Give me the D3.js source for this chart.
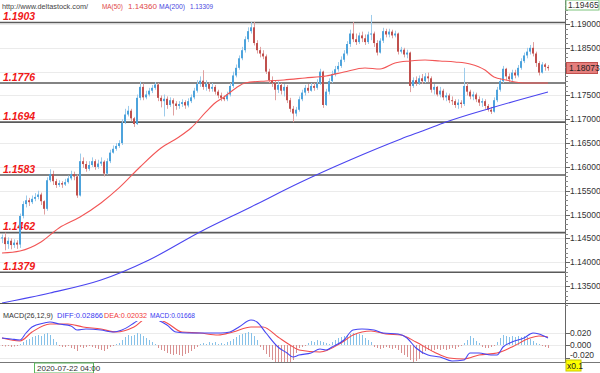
<!DOCTYPE html>
<html>
<head>
<meta charset="utf-8">
<script src="https://cdn.jsdelivr.net/npm/d3@7"></script>
<style>
  html, body { margin: 0; padding: 0; background: #fff; }
  svg { display: block; font-family: "Liberation Sans", Arial, sans-serif; }
</style>
</head>
<body>
<div id="chart"></div>
<script>
// ---- data ----
const firstOpen = 1.1450;
const closes = [
  1.1452,1.1438,1.1445,1.1436,1.1441,1.1437,1.1497,1.1522,1.1530,1.1526,
  1.1533,1.1537,1.1542,1.1528,1.1512,1.1572,1.1585,1.1570,1.1562,1.1566,
  1.1563,1.1568,1.1576,1.1585,1.1580,1.1540,1.1612,1.1606,1.1596,1.1604,
  1.1612,1.1600,1.1607,1.1611,1.1586,1.1612,1.1630,1.1638,1.1644,1.1650,
  1.1693,1.1710,1.1718,1.1702,1.1690,1.1745,1.1768,1.1746,1.1752,1.1760,
  1.1766,1.1773,1.1745,1.1738,1.1743,1.1730,1.1740,1.1733,1.1728,1.1732,
  1.1736,1.1729,1.1738,1.1746,1.1760,1.1774,1.1781,1.1768,1.1774,1.1764,
  1.1768,1.1758,1.1750,1.1745,1.1742,1.1752,1.1770,1.1792,1.1808,1.1828,
  1.1845,1.1868,1.1885,1.1893,1.1860,1.1845,1.1838,1.1832,1.1800,1.1782,
  1.1776,1.1762,1.1772,1.1760,1.1768,1.1740,1.1722,1.1712,1.1720,1.1742,
  1.1756,1.1766,1.1760,1.1770,1.1766,1.1775,1.1800,1.1730,1.1758,1.1780,
  1.1795,1.1805,1.1812,1.1825,1.1838,1.1858,1.1880,1.1868,1.1862,1.1876,
  1.1870,1.1862,1.1878,1.1880,1.1860,1.1840,1.1865,1.1885,1.1878,1.1884,
  1.1876,1.1880,1.1842,1.1846,1.1836,1.1840,1.1770,1.1782,1.1775,1.1786,
  1.1780,1.1790,1.1786,1.1762,1.1768,1.1752,1.1760,1.1746,1.1750,1.1740,
  1.1738,1.1730,1.1735,1.1732,1.1770,1.1758,1.1748,1.1752,1.1742,1.1735,
  1.1738,1.1728,1.1720,1.1716,1.1740,1.1762,1.1780,1.1806,1.1790,1.1784,
  1.1798,1.1792,1.1808,1.1822,1.1834,1.1842,1.1850,1.1838,1.1818,1.1798,
  1.1815,1.1810,1.18073
];
const highs = [
  1.1458,1.1462,1.1452,1.1450,1.1448,1.1446,1.1502,1.1528,1.1540,1.1535,
  1.1540,1.1545,1.1550,1.1546,1.1530,1.1578,1.1595,1.1592,1.1575,1.1572,
  1.1570,1.1575,1.1582,1.1592,1.1590,1.1584,1.1628,1.1620,1.1612,1.1612,
  1.1620,1.1616,1.1615,1.1620,1.1614,1.1618,1.1636,1.1645,1.1650,1.1656,
  1.1700,1.1722,1.1728,1.1722,1.1705,1.1752,1.1779,1.1775,1.1760,1.1766,
  1.1772,1.1778,1.1776,1.1750,1.1752,1.1748,1.1746,1.1744,1.1738,1.1738,
  1.1742,1.1740,1.1744,1.1752,1.1766,1.1782,1.1790,1.1803,1.1782,1.1778,
  1.1776,1.1772,1.1762,1.1756,1.1750,1.1758,1.1776,1.1800,1.1815,1.1834,
  1.1852,1.1874,1.1893,1.1904,1.1904,1.1866,1.1852,1.1845,1.1836,1.1806,
  1.1790,1.1782,1.1780,1.1776,1.1774,1.1772,1.1745,1.1728,1.1726,1.1748,
  1.1762,1.1772,1.1774,1.1776,1.1776,1.1784,1.1806,1.1802,1.1764,1.1786,
  1.1802,1.1812,1.1820,1.1832,1.1845,1.1864,1.1888,1.1904,1.1880,1.1882,
  1.1884,1.1878,1.1884,1.1919,1.1884,1.1866,1.1870,1.1892,1.1890,1.1890,
  1.1888,1.1886,1.1882,1.1852,1.1850,1.1846,1.1842,1.1788,1.1790,1.1792,
  1.1795,1.1797,1.1798,1.1790,1.1774,1.1770,1.1768,1.1764,1.1756,1.1754,
  1.1748,1.1742,1.1742,1.1740,1.1808,1.1776,1.1762,1.1758,1.1756,1.1748,
  1.1744,1.1742,1.1732,1.1726,1.1746,1.1768,1.1786,1.1812,1.1808,1.1796,
  1.1804,1.1804,1.1814,1.1828,1.1840,1.1850,1.1856,1.1862,1.1842,1.1822,
  1.1820,1.1818,1.1814
];
const lows = [
  1.1440,1.1425,1.1428,1.1427,1.1430,1.1428,1.1430,1.1492,1.1515,1.1518,
  1.1522,1.1528,1.1532,1.1520,1.1500,1.1508,1.1568,1.1562,1.1556,1.1558,
  1.1556,1.1560,1.1565,1.1572,1.1572,1.1535,1.1538,1.1598,1.1590,1.1592,
  1.1600,1.1594,1.1596,1.1602,1.1580,1.1584,1.1608,1.1628,1.1634,1.1640,
  1.1646,1.1690,1.1706,1.1696,1.1684,1.1688,1.1740,1.1740,1.1742,1.1748,
  1.1755,1.1762,1.1738,1.1725,1.1706,1.1722,1.1726,1.1708,1.1720,1.1722,
  1.1726,1.1722,1.1725,1.1734,1.1742,1.1756,1.1768,1.1762,1.1760,1.1758,
  1.1758,1.1752,1.1744,1.1738,1.1738,1.1738,1.1748,1.1766,1.1788,1.1804,
  1.1824,1.1840,1.1862,1.1880,1.1855,1.1838,1.1830,1.1826,1.1795,1.1776,
  1.1768,1.1740,1.1755,1.1752,1.1748,1.1734,1.1715,1.1694,1.1706,1.1716,
  1.1738,1.1750,1.1755,1.1758,1.1760,1.1762,1.1772,1.1724,1.1728,1.1752,
  1.1776,1.1790,1.1800,1.1808,1.1820,1.1834,1.1852,1.1862,1.1856,1.1858,
  1.1862,1.1856,1.1858,1.1866,1.1852,1.1834,1.1838,1.1860,1.1872,1.1872,
  1.1870,1.1872,1.1836,1.1838,1.1830,1.1828,1.1757,1.1766,1.1770,1.1772,
  1.1774,1.1776,1.1778,1.1756,1.1752,1.1748,1.1746,1.1740,1.1738,1.1734,
  1.1730,1.1724,1.1722,1.1724,1.1728,1.1750,1.1742,1.1740,1.1736,1.1728,
  1.1726,1.1722,1.1716,1.1711,1.1714,1.1736,1.1758,1.1776,1.1782,1.1778,
  1.1780,1.1786,1.1788,1.1804,1.1818,1.1828,1.1836,1.1832,1.1810,1.1792,
  1.1796,1.1802,1.1802
];

// moving averages, [candle index, value]
const ma50 = [
  [0,1.14193],[6,1.14235],[13,1.14424],[19,1.14718],[26,1.14949],[33,1.15243],
  [39,1.15558],[46,1.15998],[53,1.16397],[59,1.16628],[63,1.16817],[68,1.17153],
  [71,1.17342],[74,1.17468],[78,1.17657],[81,1.17762],[88,1.17804],[94,1.17825],
  [101,1.17867],[108,1.17909],[114,1.17992],[121,1.18076],[126,1.18055],[131,1.18181],
  [136,1.18223],[141,1.18244],[146,1.18223],[151,1.18202],[156,1.18160],[161,1.18034],
  [164,1.17887],[168,1.17825],[171,1.17783],[174,1.17762],[179,1.17762],[182,1.17762]
];
const ma200 = [
  [0,1.13144],[16,1.13354],[33,1.13626],[49,1.14046],[66,1.14634],[83,1.15159],
  [99,1.15662],[116,1.16145],[133,1.16586],[141,1.16775],[148,1.16943],[163,1.17237],
  [182,1.17573]
];

const levels = [1.1903, 1.1776, 1.1694, 1.1583, 1.1462, 1.1379];
const priceTicks = [1.19, 1.185, 1.18, 1.175, 1.17, 1.165, 1.16, 1.155, 1.15, 1.145, 1.14, 1.135];
const macdTicks = [0.02, 0, -0.02];

// MACD lines, [candle index, value]
const macdDiff = [
  [0,0.0112],[3,0.0096],[6,0.008],[8,0.0192],[10,0.0288],[14,0.0352],[16,0.0368],
  [19,0.0336],[23,0.0304],[25,0.024],[28,0.0256],[33,0.024],[37,0.0208],[40,0.024],
  [44,0.0352],[46,0.0416],[49,0.0464],[52,0.04],[55,0.032],[58,0.0208],[62,0.0192],
  [66,0.0192],[69,0.0192],[73,0.0192],[76,0.0208],[79,0.0288],[83,0.04],[85,0.0368],
  [88,0.0192],[92,-0.0032],[95,-0.0128],[97,-0.0192],[99,-0.016],[103,-0.0128],
  [106,-0.0064],[108,-0.008],[110,-0.0032],[114,0.008],[117,0.024],[120,0.0256],
  [124,0.024],[127,0.0192],[132,0.0176],[135,0.0112],[138,-0.0048],[142,-0.016],
  [146,-0.0192],[150,-0.0256],[154,-0.024],[156,-0.0128],[159,-0.0128],[163,-0.016],
  [165,-0.016],[167,-0.0032],[170,0.0048],[174,0.0112],[177,0.0192],[179,0.0176],
  [182,0.0112]
];
const macdDea = [
  [0,0.0112],[6,0.0064],[10,0.0208],[16,0.0336],[22,0.0336],[27,0.0288],[33,0.0256],
  [38,0.0208],[44,0.0288],[49,0.0448],[55,0.0352],[60,0.0208],[66,0.0192],[72,0.016],
  [77,0.0208],[83,0.0288],[87,0.0288],[92,0.0128],[96,0],[99,-0.008],[106,-0.0112],
  [113,0.0032],[117,0.016],[123,0.0224],[128,0.0176],[133,0.016],[138,0.0048],
  [144,-0.0112],[149,-0.0208],[154,-0.0224],[159,-0.016],[165,-0.0128],[170,-0.0032],
  [176,0.0112],[179,0.0144],[182,0.0128]
];
const macdHist = [
  -0.0016,-0.0024,-0.0016,-0.0032,-0.0024,-0.0016,0.0016,0.0048,0.008,0.0096,
  0.0128,0.0144,0.016,0.0144,0.0176,0.0192,0.016,0.0096,0.0048,-0.0016,
  -0.0032,-0.0032,-0.0016,-0.0048,-0.0064,-0.0096,-0.0032,-0.0048,-0.0032,-0.0016,
  -0.0032,-0.0048,-0.0064,-0.008,-0.0096,-0.0064,-0.0032,-0.0016,0.0016,0.0032,
  0.008,0.0128,0.016,0.0144,0.016,0.0192,0.0176,0.0144,0.0112,0.008,
  0.0048,0.0016,-0.0048,-0.008,-0.0096,-0.0128,-0.0144,-0.016,-0.0144,-0.016,
  -0.0176,-0.0144,-0.0128,-0.0096,-0.0064,-0.0032,0.0016,0.0032,0.0016,0.0048,
  0.0032,0.0048,0.0016,0.0032,0.0016,0.0048,0.0064,0.0096,0.0128,0.016,
  0.0176,0.0192,0.0208,0.0192,0.0144,0.008,-0.0032,-0.008,-0.0144,-0.0192,
  -0.024,-0.0272,-0.0304,-0.032,-0.0304,-0.032,-0.0288,-0.024,-0.0128,-0.0048,
  -0.0032,-0.0016,0.0032,0.0064,0.0048,0.008,0.0064,0.0048,0.0032,0.0016,
  0.0048,0.008,0.0112,0.0128,0.0144,0.016,0.0176,0.0192,0.0192,0.0176,
  0.016,0.0112,0.008,0.0048,-0.0032,-0.0048,-0.0064,-0.0048,-0.0032,-0.0048,
  -0.0064,-0.0048,-0.008,-0.0128,-0.016,-0.0192,-0.024,-0.0272,-0.0256,-0.0224,
  -0.0144,-0.0096,-0.008,-0.0096,-0.008,-0.0064,-0.008,-0.0064,-0.008,-0.0064,
  -0.0048,-0.0064,-0.0032,-0.0016,0.0032,0.008,0.0144,0.0112,0.0064,0.0032,
  -0.0032,-0.0048,-0.0048,-0.0032,-0.0016,0.0048,0.0112,0.016,0.0144,0.0128,
  0.0144,0.0128,0.0144,0.0128,0.0144,0.0128,0.0096,0.0064,0.0032,0.0016,
  -0.0016,-0.0032,-0.0048
];

const header = [
  { text: "http://www.deltastock.com/", color: "#444", x: 2, w: 86 },
  { text: "MA(50)", color: "#e04848", x: 102, w: 21 },
  { text: "1.14360", color: "#e04848", x: 128, w: 29 },
  { text: "MA(200)", color: "#4848e0", x: 159, w: 26 },
  { text: "1.13309", color: "#4848e0", x: 190, w: 23 }
];
const macdHeader = [
  { text: "MACD(26,12,9)", color: "#333", x: 3, w: 50 },
  { text: "DIFF:0.02866", color: "#3a3af0", x: 57, w: 46 },
  { text: "DEA:0.02032", color: "#f03a3a", x: 104, w: 43 },
  { text: "MACD:0.01668", color: "#3a3af0", x: 150, w: 45 }
];
const topPrice = "1.19465";
const lastPrice = 1.18073;
const timeLabel = "2020-07-22 04:00";

// ---- layout ----
const width = 600, height = 373;
const plotRight = 565;
const mainBottom = 303;
const macdTop = 303, macdBottom = 362;

const svg = d3.select("#chart").append("svg")
  .attr("width", width).attr("height", height);

const x = d3.scaleLinear().domain([0, closes.length - 1]).range([2, 548]);
const y = d3.scaleLinear().domain([1.135, 1.19]).range([286, 24]);
const ym = d3.scaleLinear().domain([-0.02, 0.02]).range([357.5, 332.5]);

const defs = svg.append("defs");
defs.append("clipPath").attr("id", "clipMain")
  .append("rect").attr("x", 0).attr("y", 0).attr("width", plotRight).attr("height", mainBottom);
defs.append("clipPath").attr("id", "clipMacd")
  .append("rect").attr("x", 0).attr("y", macdTop + 1).attr("width", plotRight).attr("height", macdBottom - macdTop - 1);

// grid lines
svg.append("g").selectAll("line").data(priceTicks).join("line")
  .attr("x1", 0).attr("x2", plotRight)
  .attr("y1", d => Math.round(y(d)) + 0.5).attr("y2", d => Math.round(y(d)) + 0.5)
  .attr("stroke", "#ebebeb");

svg.append("g").selectAll("line").data(macdTicks).join("line")
  .attr("x1", 0).attr("x2", plotRight)
  .attr("y1", d => Math.round(ym(d)) + 0.5).attr("y2", d => Math.round(ym(d)) + 0.5)
  .attr("stroke", "#ebebeb");

// support / resistance levels
const lvl = svg.append("g");
lvl.selectAll("line").data(levels).join("line")
  .attr("x1", 0).attr("x2", plotRight)
  .attr("y1", d => y(d)).attr("y2", d => y(d))
  .attr("stroke", "#5a5a5a").attr("stroke-width", 1.6);
lvl.selectAll("text").data(levels).join("text")
  .attr("x", 3).attr("y", d => y(d) - 2.5)
  .attr("fill", "#f01818")
  .attr("font-size", 10.5).attr("font-weight", "bold").attr("font-style", "italic")
  .text(d => d.toFixed(4));

// candles
const candles = closes.map((c, i) => ({
  i, o: i ? closes[i - 1] : firstOpen, h: highs[i], l: lows[i], c
}));
const upColor = "#4da3dc", downColor = "#c0504d";
const cg = svg.append("g").attr("clip-path", "url(#clipMain)");
cg.selectAll(".wick").data(candles).join("rect")
  .attr("class", "wick")
  .attr("x", d => Math.round(x(d.i)))
  .attr("width", 1)
  .attr("y", d => y(d.h))
  .attr("height", d => Math.max(1, y(d.l) - y(d.h)))
  .attr("fill", d => d.c >= d.o ? "#9ccbeb" : "#e0a0a0");
cg.selectAll(".body").data(candles).join("rect")
  .attr("class", "body")
  .attr("x", d => Math.round(x(d.i)) - 1)
  .attr("width", 2)
  .attr("y", d => y(Math.max(d.o, d.c)))
  .attr("height", d => Math.max(1, Math.abs(y(d.o) - y(d.c))))
  .attr("fill", d => d.c >= d.o ? upColor : downColor);

// moving averages
const maLine = d3.line().x(d => x(d[0])).y(d => y(d[1])).curve(d3.curveMonotoneX);
cg.append("path").attr("d", maLine(ma200))
  .attr("fill", "none").attr("stroke", "#4b45f0").attr("stroke-width", 1.1);
cg.append("path").attr("d", maLine(ma50))
  .attr("fill", "none").attr("stroke", "#f25656").attr("stroke-width", 1.1);

// MACD panel
const mg = svg.append("g").attr("clip-path", "url(#clipMacd)");
mg.selectAll("rect").data(macdHist).join("rect")
  .attr("x", (d, i) => Math.round(x(i)))
  .attr("width", 1)
  .attr("y", d => Math.min(ym(d), ym(0)))
  .attr("height", d => Math.abs(ym(d) - ym(0)))
  .attr("fill", d => d >= 0 ? "#86c1e8" : "#d99090");
const macdLine = d3.line().x(d => x(d[0])).y(d => ym(d[1])).curve(d3.curveMonotoneX);
mg.append("path").attr("d", macdLine(macdDea))
  .attr("fill", "none").attr("stroke", "#f24c4c").attr("stroke-width", 1.1);
mg.append("path").attr("d", macdLine(macdDiff))
  .attr("fill", "none").attr("stroke", "#4646f2").attr("stroke-width", 1.1);

// header texts, squeezed to the widths seen in the picture
function textRow(items, yBase, size, withBg) {
  const g = svg.append("g");
  if (withBg) {
    const last = items[items.length - 1];
    g.append("rect").attr("fill", "#fff")
      .attr("x", 0).attr("y", yBase - size).attr("width", last.x + last.w + 2).attr("height", size + 3);
  }
  g.selectAll("text").data(items).join("text")
    .attr("x", d => d.x).attr("y", yBase)
    .attr("font-size", size).attr("fill", d => d.color)
    .attr("textLength", d => d.w).attr("lengthAdjust", "spacingAndGlyphs")
    .text(d => d.text);
}
textRow(header, 9, 8, false);
textRow(macdHeader, 318, 8, true);

// frame lines
svg.append("line").attr("x1", 0).attr("x2", width).attr("y1", mainBottom + 0.5).attr("y2", mainBottom + 0.5)
  .attr("stroke", "#555");
svg.append("line").attr("x1", 0).attr("x2", width).attr("y1", macdBottom + 0.5).attr("y2", macdBottom + 0.5)
  .attr("stroke", "#777");
svg.append("line").attr("x1", plotRight + 0.5).attr("x2", plotRight + 0.5).attr("y1", 0).attr("y2", macdBottom)
  .attr("stroke", "#666");

// right price axis
const lastY = Math.round(y(lastPrice));
const ax = svg.append("g");
ax.selectAll(".minor").data(d3.range(1.131, 1.195, 0.001)).join("line")
  .attr("class", "minor")
  .attr("x1", plotRight).attr("x2", plotRight + 3)
  .attr("y1", d => Math.round(y(d)) + 0.5).attr("y2", d => Math.round(y(d)) + 0.5)
  .attr("stroke", "#888");
ax.selectAll(".major").data(priceTicks).join("line")
  .attr("class", "major")
  .attr("x1", plotRight).attr("x2", plotRight + 5)
  .attr("y1", d => Math.round(y(d)) + 0.5).attr("y2", d => Math.round(y(d)) + 0.5)
  .attr("stroke", "#666");
// the last-price box covers the label next to it
ax.selectAll("text").data(priceTicks.filter(d => Math.abs(y(d) - lastY) > 10)).join("text")
  .attr("x", 570).attr("y", d => y(d) + 3)
  .attr("font-size", 8.5).attr("fill", "#333")
  .text(d => d.toFixed(5));

const mx = svg.append("g");
mx.selectAll("line").data(macdTicks).join("line")
  .attr("x1", plotRight).attr("x2", plotRight + 5)
  .attr("y1", d => Math.round(ym(d)) + 0.5).attr("y2", d => Math.round(ym(d)) + 0.5)
  .attr("stroke", "#666");
mx.selectAll("text").data(macdTicks).join("text")
  .attr("x", 570).attr("y", d => d < 0 ? ym(d) + 0.5 : ym(d) + 3)
  .attr("font-size", 8.5).attr("fill", "#333")
  .text(d => d3.format(".3f")(d).replace("−", "-"));

// top price box
svg.append("rect").attr("x", 566).attr("y", 0).attr("width", 33).attr("height", 10)
  .attr("fill", "#fff").attr("stroke", "#7cc47c");
svg.append("text").attr("x", 568).attr("y", 8).attr("font-size", 8.5).attr("fill", "#333").text(topPrice);

// last price box
svg.append("rect").attr("x", 566.5).attr("y", lastY - 5.5).attr("width", 31).attr("height", 11)
  .attr("fill", "#e57e7c").attr("stroke", "#c0504d");
svg.append("text").attr("x", 569).attr("y", lastY + 3).attr("font-size", 8.5).attr("fill", "#222")
  .text(lastPrice.toFixed(5));

// x0.1 box
svg.append("rect").attr("x", 566).attr("y", 360).attr("width", 15).attr("height", 11)
  .attr("fill", "#ffff00").attr("stroke", "#c8c800");
svg.append("text").attr("x", 567).attr("y", 369).attr("font-size", 8.5).attr("fill", "#222").text("x0.1");

// time label
svg.append("rect").attr("x", 34.5).attr("y", 363).attr("width", 59).attr("height", 10)
  .attr("fill", "#fff").attr("stroke", "#5cb85c");
svg.append("text").attr("x", 37).attr("y", 371).attr("font-size", 8).attr("fill", "#333").text(timeLabel);
</script>
</body>
</html>
